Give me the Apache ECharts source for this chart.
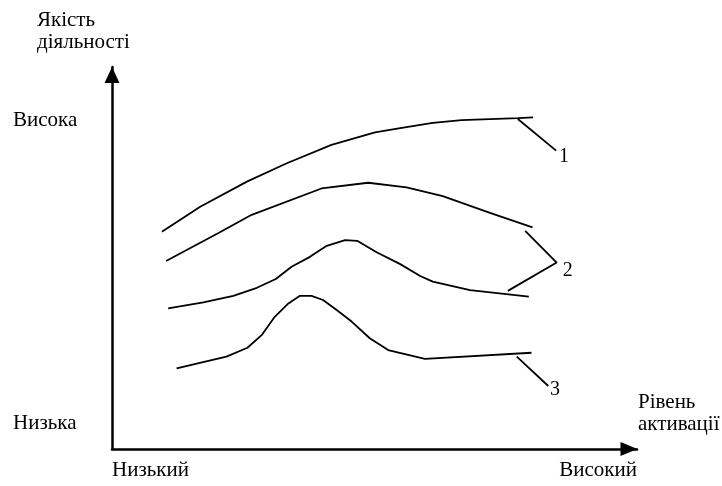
<!DOCTYPE html>
<html>
<head>
<meta charset="utf-8">
<script src="https://cdn.jsdelivr.net/npm/echarts@6/dist/echarts.min.js"></script>
<style>
html,body{margin:0;padding:0;background:#fff;}
#chart{width:722px;height:486px;}
</style>
</head>
<body>
<div id="chart"></div>
<script>
// Axis labels
const yTickValues = [6.8, 86.0];
const yTickLabels = ['Низька', 'Висока'];
const xTickLabels = ['Низький', 'Високий'];
const yAxisTitle = 'Якість\nдіяльності';
const xAxisTitle = 'Рівень\nактивації';

// Curves: [activation, quality] in 0..100 units
const curve1 = [[9.5,56.9],[16.8,63.4],[25.7,70.0],[33.3,74.8],[41.8,79.6],[50.1,82.9],[54.9,84.0],[61.1,85.4],[66.6,86.1],[77.3,86.6],[80.2,86.8]];
const curve2a = [[10.3,49.2],[20.2,56.5],[26.6,61.3],[39.9,68.2],[48.8,69.7],[56.1,68.5],[63.0,66.2],[72.0,61.8],[80.1,58.0]];
const curve2b = [[10.7,36.8],[17.4,38.4],[23.1,40.1],[27.6,42.2],[31.2,44.5],[34.2,47.7],[37.7,50.3],[40.9,53.2],[44.4,54.7],[46.7,54.5],[50.4,51.5],[54.9,48.4],[58.7,45.3],[61.1,43.8],[68.2,41.6],[79.4,39.9]];
const curve3 = [[12.3,21.1],[21.8,24.2],[25.8,26.5],[28.5,29.8],[31.0,34.6],[33.6,38.1],[35.8,40.1],[38.0,40.1],[40.2,39.0],[42.8,36.4],[45.7,33.3],[49.1,29.0],[52.6,25.9],[59.6,23.6],[79.9,25.2]];

// Leader lines and their numbers
const leader1 = [[77.3,86.4],[84.6,78.1]];
const leader2 = [[78.7,57.1],[84.7,48.8],[75.4,41.4]];
const leader3 = [[77.1,24.2],[83.1,16.5]];
const curveNumbers = ['1', '2', '3'];
const numberPositions = [[86.1,76.4],[86.8,46.6],[84.4,15.4]];

const FONT = 'Liberation Serif';
const chart = echarts.init(document.getElementById('chart'), null, {renderer: 'canvas'});

function lineSeries(data, w) {
  return {type: 'line', data: data, symbol: 'none', silent: true,
    lineStyle: {color: '#000', width: w}, z: 3};
}

chart.setOption({
  animation: false,
  backgroundColor: '#fff',
  title: [
    {text: yAxisTitle, left: 32, top: 4,
      textStyle: {fontFamily: FONT, fontSize: 21, fontWeight: 'normal', color: '#000', lineHeight: 22}},
    {text: xAxisTitle, left: 633, top: 386,
      textStyle: {fontFamily: FONT, fontSize: 21, fontWeight: 'normal', color: '#000', lineHeight: 22}}
  ],
  grid: {left: 112, right: 85, top: 67, bottom: 37, containLabel: false},
  xAxis: {
    type: 'value', min: 0, max: 100, interval: 100,
    axisLine: {show: true, onZero: false, lineStyle: {color: '#000', width: 2.5},
      symbol: ['none', 'triangle'], symbolSize: [14, 17], symbolOffset: [0, -8]},
    axisTick: {show: false}, splitLine: {show: false},
    axisLabel: {show: true, margin: 11, color: '#000', fontFamily: FONT, fontSize: 21,
      showMinLabel: true, showMaxLabel: true, alignMinLabel: 'left', alignMaxLabel: 'right',
      formatter: function (v) { return v === 0 ? xTickLabels[0] : (v === 100 ? xTickLabels[1] : ''); }}
  },
  yAxis: {
    type: 'value', min: 0, max: 100,
    axisLine: {show: true, onZero: false, lineStyle: {color: '#000', width: 2.5},
      symbol: ['none', 'triangle'], symbolSize: [15, 16], symbolOffset: [0, -8]},
    axisTick: {show: false}, splitLine: {show: false},
    axisLabel: {show: true, customValues: yTickValues, align: 'left', margin: 99,
      color: '#000', fontFamily: FONT, fontSize: 21,
      formatter: function (v) {
        const i = yTickValues.indexOf(v);
        return i >= 0 ? yTickLabels[i] : '';
      }}
  },
  series: [
    lineSeries(curve1, 1.8),
    lineSeries(curve2a, 1.8),
    lineSeries(curve2b, 1.8),
    lineSeries(curve3, 1.8),
    lineSeries(leader1, 1.8),
    lineSeries(leader2, 1.8),
    lineSeries(leader3, 1.8),
    {type: 'scatter', symbolSize: 0, silent: true, itemStyle: {color: '#000', opacity: 1},
      data: numberPositions.map(function (p, i) { return {name: curveNumbers[i], value: p}; }),
      label: {show: true, position: 'inside', formatter: '{b}', color: '#000',
        textBorderWidth: 0, textBorderColor: 'transparent', opacity: 1,
        fontFamily: FONT, fontSize: 20}}
  ]
});
</script>
</body>
</html>
